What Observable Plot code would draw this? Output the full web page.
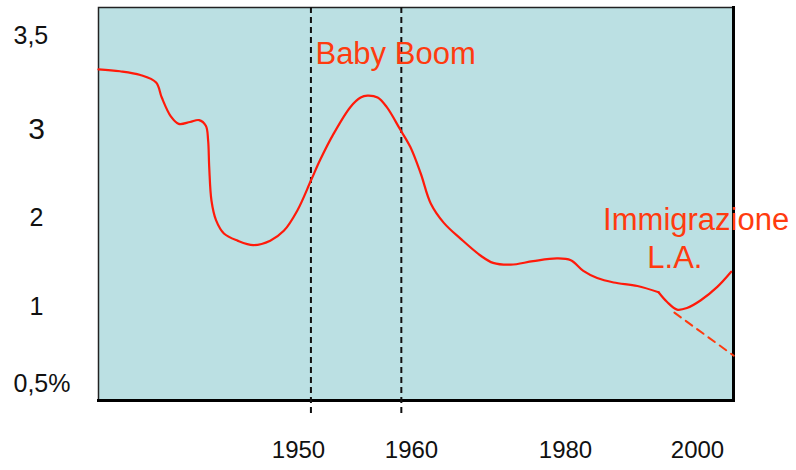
<!DOCTYPE html>
<html>
<head>
<meta charset="utf-8">
<script src="https://cdn.jsdelivr.net/npm/d3@7"></script>
<script src="https://cdn.jsdelivr.net/npm/@observablehq/plot@0.6"></script>
<style>
  html, body { margin: 0; padding: 0; background: #fff; }
  #chart svg { display: block; }
</style>
</head>
<body>
<div id="chart"></div>
<script>
// Tick labels
const xTicks = [1950, 1960, 1980, 2000];
const xTickLabels = ["1950", "1960", "1980", "2000"];
const yTicks = [0.5, 1, 2, 3, 3.5];
const yTickLabels = ["0,5%", "1", "2", "3", "3,5"];

// Baby boom boundaries (dashed lines)
const boomYears = [1951.1, 1959.1];

// Main curve (year, value)
const mainYears = [1932.3, 1934.2, 1936.0, 1937.4, 1937.9, 1938.7, 1939.4, 1940.4, 1941.2, 1941.8,
  1942.0, 1942.1, 1942.3, 1942.7, 1943.4, 1944.6, 1946.0, 1947.5, 1948.7, 1949.9,
  1951.1, 1951.9, 1953.1, 1954.6, 1955.5, 1956.1, 1957.0, 1957.8, 1959.0, 1959.9,
  1961.2, 1962.5, 1964.2, 1966.4, 1969.0, 1970.6, 1972.9, 1975.8, 1978.9, 1980.8,
  1982.7, 1984.8, 1987.3, 1990.9, 1994.1];
const mainValues = [3.32, 3.31, 3.29, 3.25, 3.17, 3.07, 3.03, 3.04, 3.05, 3.02,
  2.88, 2.57, 2.19, 1.97, 1.82, 1.74, 1.69, 1.74, 1.85, 2.08,
  2.42, 2.65, 2.95, 3.12, 3.17, 3.18, 3.17, 3.12, 3.00, 2.80,
  2.50, 2.16, 1.94, 1.76, 1.57, 1.49, 1.47, 1.51, 1.54, 1.52,
  1.40, 1.32, 1.27, 1.23, 1.16];

// Immigration rebound
const immYears = [1994.1, 1995.4, 1996.9, 1998.4, 2000.5, 2003.0, 2005.1];
const immValues = [1.16, 1.05, 0.98, 0.99, 1.07, 1.22, 1.39];

// Projected decline without immigration (dashed)
const projYears = [1996.5, 2005.5];
const projValues = [0.96, 0.68];

// Annotations
const annoTexts = ["Baby Boom", "Immigrazione", "L.A."];
const annoYears = [1951.5, 1985.7, 1992.4];
const annoValues = [3.40, 1.97, 1.54];

const toRows = (xs, ys) => xs.map((x, i) => ({x, y: ys[i]}));
const mainData = toRows(mainYears, mainValues);
const immData = toRows(immYears, immValues);
const projData = toRows(projYears, projValues);
const annoData = annoTexts.map((t, i) => ({text: t, x: annoYears[i], y: annoValues[i]}));
const yTickData = yTicks.map((v, i) => ({v, label: yTickLabels[i]}));
const xTickData = xTicks.map((v, i) => ({v, label: xTickLabels[i]}));

const red = "#ff1a0a";
const orange = "#ff3b0f";

const chart = Plot.plot({
  width: 796,
  height: 470,
  marginLeft: 98,
  marginRight: 63,
  marginTop: 7,
  marginBottom: 70,
  style: {fontFamily: "'Liberation Sans', Arial, sans-serif", background: "#fff", overflow: "visible"},
  x: {type: "linear", domain: xTicks, range: [298, 411, 565, 697], axis: null},
  y: {type: "linear", domain: yTicks, range: [383, 306, 217, 129, 35], axis: null},
  marks: [
    Plot.frame({fill: "#bbe0e3", stroke: "#222", strokeWidth: 1.5}),
    Plot.frame({anchor: "bottom", stroke: "#000", strokeWidth: 3}),
    Plot.frame({anchor: "right", stroke: "#000", strokeWidth: 3}),
    Plot.ruleX(boomYears, {stroke: "#111", strokeWidth: 2, strokeDasharray: "6,4", insetBottom: -17}),
    Plot.line(mainData, {x: "x", y: "y", stroke: red, strokeWidth: 2.2, curve: "catmull-rom"}),
    Plot.line(immData, {x: "x", y: "y", stroke: red, strokeWidth: 2.2, curve: "catmull-rom"}),
    Plot.line(projData, {x: "x", y: "y", stroke: orange, strokeWidth: 2, strokeDasharray: "8,6"}),
    Plot.text(annoData, {x: "x", y: "y", text: "text", textAnchor: "start", fill: orange, fontSize: 31}),
    Plot.text(yTickData.filter(d => d.label.length > 1), {y: "v", text: "label", frameAnchor: "left", dx: -85, textAnchor: "start", fontSize: 25, fill: "#111"}),
    Plot.text(yTickData.filter(d => d.label.length === 1), {y: "v", text: "label", frameAnchor: "left", dx: -62, textAnchor: "middle", fontSize: d => d.v === 3 ? 30 : 25, fill: "#111"}),
    Plot.text(xTickData, {x: "v", text: "label", frameAnchor: "bottom", dy: 57, fontSize: 24, fill: "#111"})
  ]
});
document.getElementById("chart").appendChild(chart);
</script>
</body>
</html>
